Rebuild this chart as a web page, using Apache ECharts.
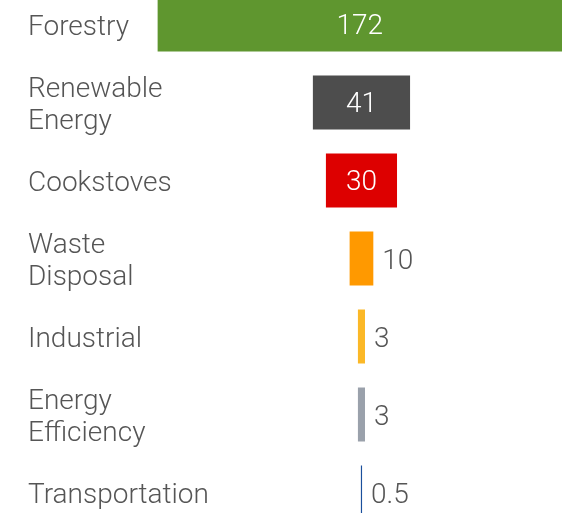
<!DOCTYPE html>
<html>
<head>
<meta charset="utf-8">
<script src="https://cdn.jsdelivr.net/npm/echarts@6/dist/echarts.min.js"></script>
<style>
html,body{margin:0;padding:0;background:#fff;}
#c{width:562px;height:513px;}
</style>
</head>
<body>
<div id="c"></div>
<script>
const categories = ['Forestry','Renewable\nEnergy','Cookstoves','Waste\nDisposal','Industrial','Energy\nEfficiency','Transportation'];
const values = [172, 41, 30, 10, 3, 3, 0.5];
const colors = ['#5f962f','#4d4d4d','#dd0000','#ff9900','#fbb827','#9aa1ab','#1a4f9c'];
const insideLabel = [true, true, true, false, false, false, false];
const centerValue = 152.5;

const chart = echarts.init(document.getElementById('c'));
const font = 'Roboto, "Liberation Sans", sans-serif';
chart.setOption({
  animation: false,
  grid: {left: 0, right: 0, top: -14.5, height: 546, containLabel: false, outerBoundsMode: 'none'},
  xAxis: {type: 'value', min: 0, max: 237.1, show: false},
  yAxis: {
    type: 'category', data: categories, inverse: true,
    axisLine: {show: false}, axisTick: {show: false}, splitLine: {show: false},
    axisLabel: {show: false}
  },
  series: [
    {
      type: 'bar', stack: 'a', silent: true, barWidth: 54,
      itemStyle: {color: 'transparent'},
      data: values.map(v => centerValue - v / 2),
      label: {
        show: true, position: 'insideLeft', distance: 28, offset: [0, 3],
        formatter: p => categories[p.dataIndex],
        fontSize: 28, fontFamily: font, fontWeight: 300, color: '#555555', lineHeight: 32
      }
    },
    {
      type: 'bar', stack: 'a', barWidth: 54,
      data: values.map((v, i) => ({
        value: v,
        itemStyle: {color: colors[i]},
        label: insideLabel[i]
          ? {show: true, position: 'inside', offset: [0, 2], color: '#ffffff', fontSize: 28, fontFamily: font, fontWeight: 300}
          : {show: true, position: 'right', distance: 9, offset: [0, 3], color: '#555555', fontSize: 28, fontFamily: font, fontWeight: 300}
      }))
    }
  ]
});
</script>
</body>
</html>
